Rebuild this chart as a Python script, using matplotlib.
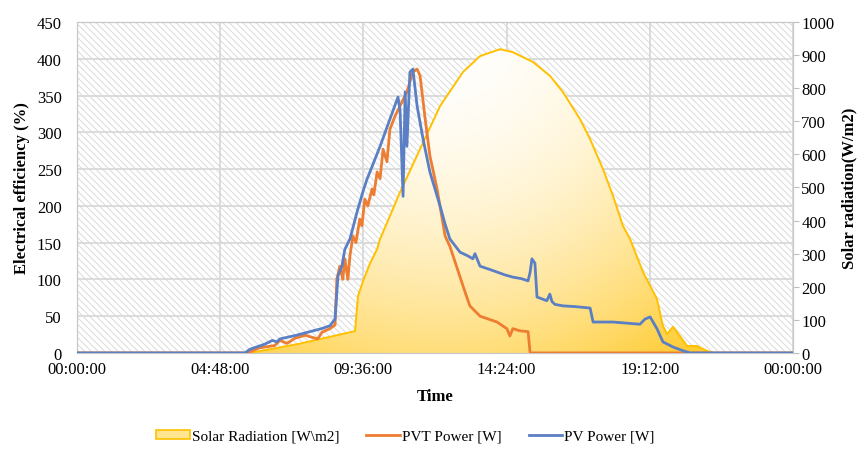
import numpy as np
import matplotlib
matplotlib.use("Agg")
import matplotlib.pyplot as plt
from matplotlib.patches import Patch, Rectangle
from matplotlib.lines import Line2D

plt.rcParams['font.family'] = ['Liberation Serif', 'DejaVu Serif']
plt.rcParams['font.size'] = 12
plt.rcParams['hatch.linewidth'] = 0.7

# time of day in hours
radTime = [0, 5.80, 7.47, 9.32, 9.42, 9.59, 9.82, 10.06, 10.16, 10.83, 11.50,
           12.17, 12.94, 13.51, 14.18, 14.61, 15.29, 15.86, 16.29, 16.86,
           17.20, 17.63, 17.97, 18.30, 18.54, 18.97, 19.44, 19.64, 19.78,
           19.98, 20.21, 20.45, 20.78, 21.12, 21.32, 24]
radiation = [0, 0, 28, 66, 172, 217, 270, 314, 344, 486, 616,
             746, 849, 897, 918, 909, 879, 837, 788, 707,
             646, 556, 474, 384, 344, 245, 163, 82, 57,
             79, 51, 21, 21, 6, 0, 0]

pvTime = [0, 5.63, 5.80, 6.30, 6.55, 6.70, 6.80, 7.35, 7.91, 8.20, 8.48, 8.65,
          8.75, 8.88, 8.98, 9.15, 9.39, 9.59, 9.72, 10.16, 10.49, 10.76, 10.83,
          10.93, 11.00, 11.06, 11.16, 11.26, 11.40, 11.60, 11.83, 12.17, 12.34,
          12.50, 12.84, 13.10, 13.27, 13.34, 13.51, 13.80, 14.08, 14.35, 14.62,
          14.90, 15.12, 15.19, 15.25, 15.35, 15.42, 15.75, 15.85, 15.92, 16.02,
          16.29, 16.70, 17.20, 17.30, 17.97, 18.87, 19.04, 19.21, 19.44, 19.64,
          19.98, 20.31, 20.55, 24]
pvPower = [0, 0, 5, 12, 17, 15, 19, 24, 30, 33, 37, 46,
           105, 118, 141, 155, 192, 220, 236, 281, 318, 348, 330,
           213, 355, 281, 382, 386, 336, 291, 246, 200, 175,
           155, 137, 132, 128, 135, 118, 114, 110, 106, 103,
           101, 98, 110, 128, 122, 76, 71, 80, 70, 66,
           64, 63, 61, 42, 42, 39, 46, 49, 33, 15,
           8, 3, 0, 0]

pvtTime = [0, 5.70, 6.13, 6.63, 6.80, 7.04, 7.31, 7.65, 8.07, 8.21, 8.48,
           8.65, 8.71, 8.81, 8.91, 8.98, 9.08, 9.15, 9.25, 9.35, 9.48, 9.55,
           9.65, 9.75, 9.89, 9.95, 10.06, 10.16, 10.26, 10.39, 10.49, 10.66,
           10.83, 11.06, 11.26, 11.40, 11.50, 11.66, 11.83, 12.07, 12.34,
           12.50, 12.94, 13.10, 13.17, 13.51, 14.08, 14.41, 14.51, 14.61,
           14.85, 15.12, 15.19, 24]
pvtPower = [0, 0, 7, 10, 17, 13, 20, 24, 19, 28, 33,
            38, 100, 118, 100, 128, 100, 132, 159, 150, 182, 173,
            209, 200, 223, 215, 246, 237, 277, 260, 304, 322,
            336, 355, 382, 386, 377, 322, 268, 223, 159,
            145, 91, 72, 64, 50, 42, 33, 23, 33,
            30, 29, 0, 0]

tickHours = [0, 4.8, 9.6, 14.4, 19.2, 24]
tickLabels = ['00:00:00', '04:48:00', '09:36:00', '14:24:00', '19:12:00', '00:00:00']

fig = plt.figure(figsize=(8.61, 4.52), dpi=100)
fig.subplots_adjust(left=0.0894, right=0.921, top=0.949, bottom=0.217)
ax = fig.add_subplot(111)

# background: hatched plot area and grid
ax.add_patch(Rectangle((0, 0), 1, 1, transform=ax.transAxes, facecolor='white',
                       edgecolor='#DADADA', linewidth=0, hatch='\\\\\\\\\\', zorder=0))
ax.set_xlim(0, 24)
ax.set_ylim(0, 450)
ax.set_yticks(np.arange(0, 451, 50))
ax.set_xticks(tickHours)
ax.set_xticklabels(tickLabels)
ax.grid(True, color='#D9D9D9', linewidth=1.3, zorder=1)
ax.set_axisbelow(True)
ax.tick_params(axis='y', length=0, pad=11)
ax.tick_params(axis='x', length=0, pad=6)
for s in ax.spines.values():
    s.set_color('#C8C8C8')
ax.set_xlabel('Time', fontweight='bold', labelpad=8)
ax.set_ylabel('Electrical efficiency (%)', fontweight='bold', labelpad=5)

# radiation on the right axis
axr = ax.twinx()
axr.set_ylim(0, 1000)
axr.set_yticks(np.arange(0, 1001, 100))
axr.tick_params(axis='y', length=4, color='#BFBFBF', pad=2)
for s in axr.spines.values():
    s.set_color('#C8C8C8')
axr.set_ylabel('Solar radiation(W/m2)', fontweight='bold', labelpad=5)

fill = axr.fill_between(radTime, radiation, 0, facecolor='none', edgecolor='none')
hh, ww = np.meshgrid(np.linspace(0, 24, 500), np.linspace(0, 1000, 400))
d = np.sqrt(((hh - 12.2) * 29.8) ** 2 + ((ww - 1000) * 0.331) ** 2) / 410
d = np.clip(d, 0, 1) ** 2.0
c0 = np.array([1.0, 1.0, 1.0])
c1 = np.array([1.0, 0.80, 0.20])
img = c0 + (c1 - c0) * d[..., None]
im = axr.imshow(img, extent=[0, 24, 0, 1000], origin='lower', aspect='auto', zorder=1)
im.set_clip_path(fill.get_paths()[0], transform=axr.transData)
axr.plot(radTime, radiation, color='#FFC000', linewidth=1.4, zorder=2)
axr.set_xlim(0, 24)

# power lines on top
axp = fig.add_axes(ax.get_position(), sharex=ax, sharey=ax)
axp.set_axis_off()
axp.plot(pvtTime, pvtPower, color='#ED7D31', linewidth=2.0)
axp.plot(pvTime, pvPower, color='#5B7FC4', linewidth=2.0)

handles = [Patch(facecolor='#FFE58F', edgecolor='#FFC000', linewidth=1.2),
           Line2D([], [], color='#ED7D31', linewidth=2.0),
           Line2D([], [], color='#5B7FC4', linewidth=2.0)]
labels = ['Solar Radiation [W\\m2]', 'PVT Power [W]', 'PV Power [W]']
fig.legend(handles, labels, loc='center', bbox_to_anchor=(0.471, 0.033), ncol=3,
           frameon=False, fontsize=11, handlelength=2.2, handleheight=0.5,
           handletextpad=0.15, columnspacing=1.75)

fig.savefig('out.png', dpi=100)
